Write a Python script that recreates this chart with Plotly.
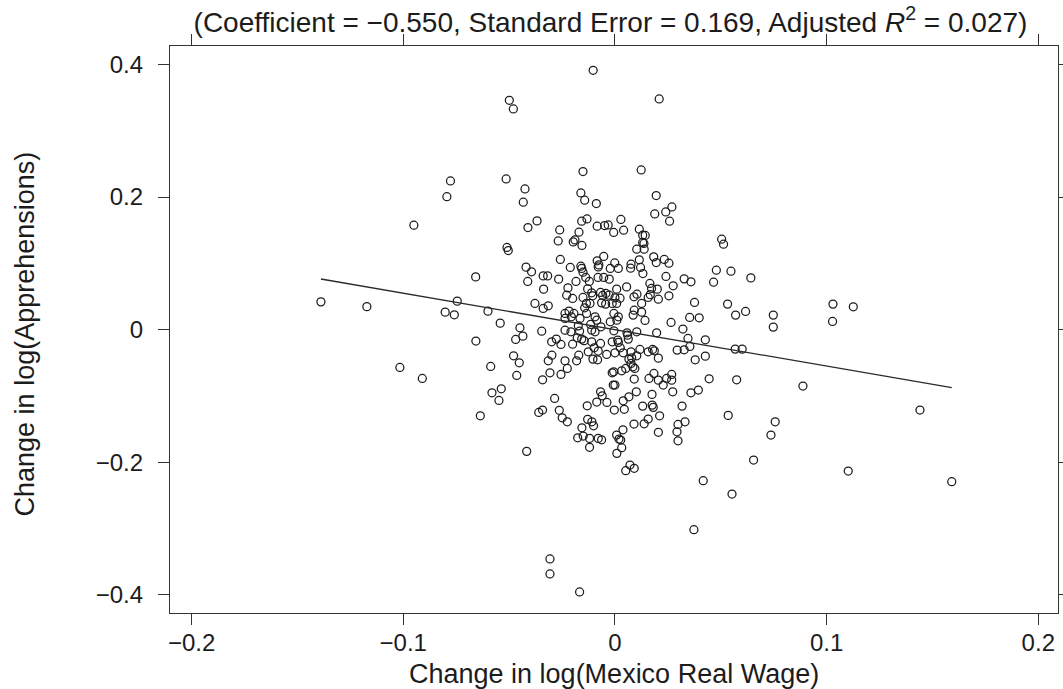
import plotly.graph_objects as go

# Change in log(Mexico Real Wage)
wage_change = [
    -0.0777, -0.0794, -0.0950, -0.1389, -0.1172, -0.0802, -0.1016, -0.0910, -0.0759,
    -0.0103, -0.0499, -0.0480, 0.0209,
    0.0748, 0.0748, 0.1030, 0.1126, 0.1028, 0.0888, 0.1441, 0.0757, 0.0737, 0.1102, 0.1591,
    0.0373, -0.0307, -0.0307, -0.0167,
    -0.0151, -0.0514, -0.0425, -0.0433, -0.0161, -0.0143, -0.0088, -0.0368, -0.0411, -0.0157,
    -0.0132, -0.0084, -0.0049, -0.0032, -0.0006, -0.0261, -0.0170, -0.0268, -0.0197, -0.0189,
    -0.0156, -0.0510, -0.0504, -0.0258, -0.0211, -0.0161, -0.0157, -0.0151, -0.0084, -0.0076,
    -0.0053, -0.0079, -0.0022, -0.0420, -0.0394, -0.0412, -0.0339, -0.0318, -0.0266, -0.0658,
    -0.0184, -0.0138, -0.0121, -0.0080, -0.0053, -0.0027, -0.0337, -0.0222, -0.0129, -0.0110,
    -0.0105, -0.0068, -0.0058, -0.0043, -0.0028, -0.0228, -0.0200, -0.0151, -0.0013, -0.0063,
    -0.0044, -0.0118, -0.0143, -0.0745, -0.0600, -0.0378, -0.0339, -0.0315, -0.0542, -0.0449,
    -0.0346, -0.0236, -0.0217, -0.0194, -0.0236, -0.0206, -0.0165, -0.0134, -0.0094, -0.0086,
    -0.0173, -0.0115, -0.0022, -0.0005, -0.0236, -0.0208, -0.0167, -0.0110, -0.0094, -0.0066,
    -0.0135,
    0.0124, 0.0195, 0.0188, 0.0240, 0.0269, 0.0258, 0.0028, 0.0041, 0.0115, 0.0131,
    0.0143, 0.0131, 0.0137, 0.0103, 0.0138, 0.0504, 0.0513, -0.0001, 0.0016, 0.0076,
    0.0074, 0.0115, 0.0121, 0.0132, 0.0183, 0.0195, 0.0233, 0.0255, 0.0241, 0.0327,
    0.0359, 0.0275, 0.0479, 0.0548, 0.0466, 0.0642, 0.0055, 0.0008, 0.0000, 0.0024,
    0.0008, 0.0090, 0.0104, 0.0165, 0.0173, 0.0200, 0.0157, 0.0167, 0.0205, 0.0255,
    0.0126, 0.0376, 0.0532, 0.0617, 0.0570, 0.0353, 0.0398, 0.0265, 0.0321, 0.0091,
    0.0126, 0.0016, 0.0009, 0.0086, 0.0142, -0.0005, 0.0057, 0.0103, 0.0197,
    -0.0657, -0.0469, -0.0435, -0.0299, -0.0277, -0.0255, -0.0200, -0.0178, -0.0157, -0.0146,
    -0.0110, -0.0098, -0.0068, -0.0013, -0.0587, -0.0479, -0.0452, -0.0464, -0.0315, -0.0298,
    -0.0236, -0.0225, -0.0255, -0.0307, -0.0342, -0.0181, -0.0171, -0.0126, -0.0104, -0.0082,
    -0.0079, -0.0039, -0.0013, -0.0008, -0.0003, -0.0581, -0.0537, -0.0548, -0.0636, -0.0285,
    -0.0360, -0.0342, -0.0263, -0.0249, -0.0225, -0.0131, -0.0086, -0.0068, -0.0060, -0.0038,
    -0.0129, -0.0109, -0.0101, -0.0156, -0.0176, -0.0150, -0.0120, -0.0079, -0.0063, -0.0120,
    -0.0417,
    0.0060, 0.0063, 0.0345, 0.0427, 0.0013, 0.0016, 0.0025, 0.0039, 0.0000, 0.0076,
    0.0118, 0.0157, 0.0178, 0.0186, 0.0205, 0.0066, 0.0079, 0.0103, 0.0076, 0.0085,
    0.0094, 0.0051, 0.0032, -0.0006, 0.0294, 0.0327, 0.0354, 0.0379, 0.0427, 0.0568,
    0.0601, 0.0091, 0.0161, 0.0184, 0.0205, 0.0228, 0.0244, 0.0268, 0.0268, 0.0273,
    0.0359, 0.0394, 0.0445, 0.0575, 0.0000, 0.0101, 0.0066, 0.0039, 0.0175, 0.0044,
    0.0131, 0.0176, 0.0181, 0.0317, 0.0535, 0.0211, 0.0157, 0.0138, 0.0090, 0.0038,
    0.0008, 0.0019, 0.0027, 0.0032, 0.0009, 0.0205, 0.0331, 0.0298, 0.0293, 0.0298,
    0.0655, 0.0051, 0.0071, 0.0091, 0.0417, 0.0553,
]

# Change in log(Apprehensions)
apprehension_change = [
    0.2244, 0.2006, 0.1576, 0.0419, 0.0347, 0.0264, -0.0570, -0.0736, 0.0223,
    0.3913, 0.3461, 0.3330, 0.3481,
    0.0219, 0.0038, 0.0385, 0.0344, 0.0124, -0.0852, -0.1214, -0.1390, -0.1591, -0.2134, -0.2295,
    -0.3019, -0.3461, -0.3687, -0.3959,
    0.2386, 0.2274, 0.2123, 0.1923, 0.2063, 0.1953, 0.1903, 0.1641, 0.1541, 0.1636,
    0.1671, 0.1561, 0.1571, 0.1580, 0.1466, 0.1505, 0.1470, 0.1339, 0.1324, 0.1354,
    0.1270, 0.1240, 0.1194, 0.1059, 0.0938, 0.0958, 0.0923, 0.0867, 0.1038, 0.0977,
    0.1104, 0.0947, 0.0923, 0.0943, 0.0872, 0.0727, 0.0811, 0.0811, 0.0762, 0.0796,
    0.0727, 0.0787, 0.0727, 0.0787, 0.0787, 0.0762, 0.0611, 0.0630, 0.0615, 0.0555,
    0.0510, 0.0561, 0.0516, 0.0546, 0.0520, 0.0520, 0.0470, 0.0486, 0.0395, 0.0404,
    0.0385, 0.0395, 0.0329, 0.0430, 0.0279, 0.0395, 0.0320, 0.0359, 0.0098, 0.0027,
    -0.0023, 0.0244, 0.0279, 0.0244, 0.0169, 0.0193, 0.0169, 0.0244, 0.0193, 0.0143,
    0.0057, 0.0078, 0.0118, 0.0244, -0.0008, -0.0033, -0.0023, -0.0008, -0.0033, 0.0042,
    0.0395,
    0.2410, 0.2024, 0.1746, 0.1776, 0.1852, 0.1636, 0.1662, 0.1500, 0.1516, 0.1425,
    0.1421, 0.1315, 0.1300, 0.1214, 0.1214, 0.1365, 0.1289, 0.1007, 0.0923, 0.0988,
    0.0927, 0.1053, 0.0938, 0.0847, 0.1098, 0.1013, 0.1059, 0.1003, 0.0802, 0.0766,
    0.0721, 0.0661, 0.0897, 0.0882, 0.0716, 0.0781, 0.0645, 0.0611, 0.0480, 0.0475,
    0.0395, 0.0495, 0.0535, 0.0697, 0.0621, 0.0611, 0.0486, 0.0528, 0.0460, 0.0510,
    0.0395, 0.0410, 0.0385, 0.0274, 0.0219, 0.0184, 0.0178, 0.0109, 0.0008, 0.0294,
    0.0264, 0.0193, 0.0143, 0.0219, 0.0139, -0.0018, -0.0048, -0.0033, -0.0048,
    -0.0173, -0.0148, -0.0098, -0.0184, -0.0143, -0.0223, -0.0219, -0.0124, -0.0143, -0.0166,
    -0.0184, -0.0274, -0.0208, -0.0184, -0.0555, -0.0395, -0.0501, -0.0691, -0.0470, -0.0385,
    -0.0470, -0.0585, -0.0676, -0.0651, -0.0757, -0.0470, -0.0385, -0.0335, -0.0445, -0.0455,
    -0.0324, -0.0374, -0.0651, -0.0837, -0.1214, -0.0953, -0.0893, -0.1068, -0.1300, -0.1038,
    -0.1249, -0.1214, -0.1218, -0.1330, -0.1390, -0.1149, -0.1093, -0.0938, -0.0998, -0.1098,
    -0.1354, -0.1390, -0.1451, -0.1481, -0.1632, -0.1606, -0.1641, -0.1641, -0.1662, -0.1776,
    -0.1837,
    -0.0083, -0.0143, -0.0133, -0.0154, -0.0158, -0.0193, -0.0274, -0.0350, -0.0350, -0.0335,
    -0.0299, -0.0335, -0.0299, -0.0320, -0.0430, -0.0445, -0.0425, -0.0395, -0.0510, -0.0561,
    -0.0585, -0.0585, -0.0621, -0.0636, -0.0309, -0.0305, -0.0253, -0.0455, -0.0400, -0.0294,
    -0.0294, -0.0746, -0.0736, -0.0661, -0.0762, -0.0837, -0.0736, -0.0676, -0.0762, -0.0938,
    -0.0953, -0.0912, -0.0742, -0.0757, -0.0837, -0.0938, -0.1013, -0.1074, -0.0977, -0.1203,
    -0.1154, -0.1139, -0.1173, -0.1154, -0.1294, -0.1300, -0.1350, -0.1421, -0.1425, -0.1511,
    -0.1591, -0.1651, -0.1666, -0.1782, -0.1867, -0.1550, -0.1390, -0.1430, -0.1541, -0.1677,
    -0.1968, -0.2129, -0.2043, -0.2093, -0.2280, -0.2481,
]

# OLS fit shown in the figure
coefficient = -0.550
intercept = 0.0

x_ticks = [-0.2, -0.1, 0, 0.1, 0.2]
x_tick_labels = ["\u22120.2", "\u22120.1", "0", "0.1", "0.2"]
y_ticks = [-0.4, -0.2, 0, 0.2, 0.4]
y_tick_labels = ["\u22120.4", "\u22120.2", "0", "0.2", "0.4"]

title_text = ("(Coefficient = \u22120.550, Standard Error = 0.169, "
              "Adjusted <i>R</i><sup>2</sup> = 0.027)")
x_title = "Change in log(Mexico Real Wage)"
y_title = "Change in log(Apprehensions)"

FONT = "Liberation Sans, Arial, Helvetica, sans-serif"
INK = "#1c1c1c"

x_min, x_max = min(wage_change), max(wage_change)
fit_x = [x_min, x_max]
fit_y = [intercept + coefficient * v for v in fit_x]

fig = go.Figure()
fig.add_trace(go.Scatter(
    x=wage_change, y=apprehension_change, mode="markers",
    marker=dict(symbol="circle-open", size=8, color=INK, line=dict(width=1.25, color=INK)),
    showlegend=False, hoverinfo="x+y",
))
fig.add_trace(go.Scatter(
    x=fit_x, y=fit_y, mode="lines",
    line=dict(color="#2a2a2a", width=1.3),
    showlegend=False, hoverinfo="skip",
))

axis_common = dict(
    showgrid=False, zeroline=False, showline=True, linecolor="#333333", linewidth=1.3,
    mirror="ticks", ticks="outside", ticklen=11, tickwidth=1.1, tickcolor="#333333",
    tickfont=dict(family=FONT, size=24, color=INK), automargin=False,
)

fig.update_layout(
    width=1063, height=689,
    paper_bgcolor="white", plot_bgcolor="white",
    margin=dict(l=170, r=5, t=46, b=76, autoexpand=False),
    font=dict(family=FONT, color=INK),
    title=dict(text=title_text, x=0.5743, xanchor="center", y=0.968, yanchor="middle",
               font=dict(family=FONT, size=28, color=INK)),
    xaxis=dict(range=[-0.2102, 0.2093], tickvals=x_ticks, ticktext=x_tick_labels,
               ticklabelstandoff=-3, **axis_common),
    yaxis=dict(range=[-0.4276, 0.428], tickvals=y_ticks, ticktext=y_tick_labels,
               ticklabelstandoff=10, **axis_common),
    annotations=[
        dict(text=x_title, xref="paper", yref="paper", x=0.5, y=-0.1076,
             xanchor="center", yanchor="middle", showarrow=False,
             font=dict(family=FONT, size=27, color=INK)),
        dict(text=y_title, xref="paper", yref="paper", x=-0.1633, y=0.493,
             xanchor="center", yanchor="middle", textangle=-90, showarrow=False,
             font=dict(family=FONT, size=27, color=INK)),
    ],
)

fig.write_html("out.html")
